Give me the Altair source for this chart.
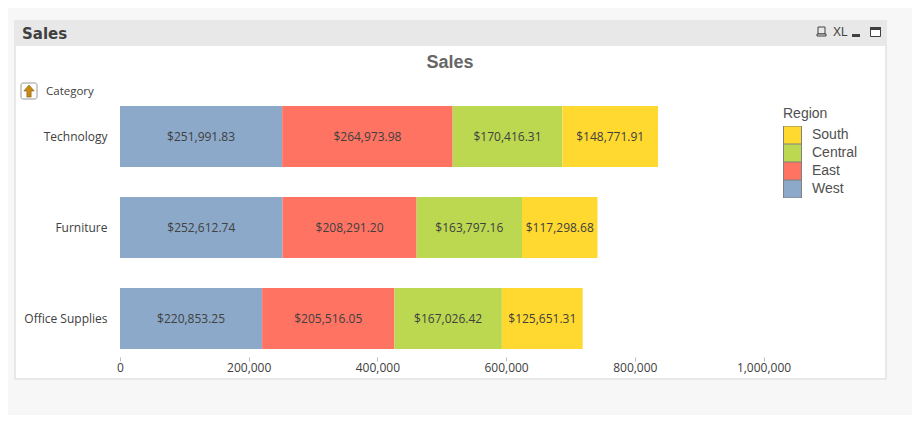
import altair as alt
import pandas as pd

categories = ["Technology", "Furniture", "Office Supplies"]
regions = ["West", "East", "Central", "South"]
legend_order = ["South", "Central", "East", "West"]
colors = ["#FFD92F", "#BBD850", "#FF7363", "#8CA9C9"]
west = [251991.83, 252612.74, 220853.25]
east = [264973.98, 208291.20, 205516.05]
central = [170416.31, 163797.16, 167026.42]
south = [148771.91, 117298.68, 125651.31]
tick_values = [0, 200000, 400000, 600000, 800000, 1000000]

series = {"West": west, "East": east, "Central": central, "South": south}
rows = []
for i, c in enumerate(categories):
    for o, r in enumerate(regions):
        rows.append({"Category": c, "Region": r, "Value": series[r][i], "o": o})
df = pd.DataFrame(rows)

OX, OY = 120, 91
one = pd.DataFrame({"a": [0]})


def box(x0, y0, x1, y1, fill, stroke=None, radius=0):
    kw = {"fill": fill}
    if stroke:
        kw["stroke"] = stroke
        kw["strokeWidth"] = 1
    if radius:
        kw["cornerRadius"] = radius
    return alt.Chart(one).mark_rect(**kw).encode(
        x=alt.value(x0 - OX), x2=alt.value(x1 - OX),
        y=alt.value(y0 - OY), y2=alt.value(y1 - OY))


def label(s, x, y, size, color, font, weight="normal", align="left"):
    return alt.Chart(one).mark_text(
        text=s, fontSize=size, color=color, font=font, fontWeight=weight,
        align=align, baseline="middle"
    ).encode(x=alt.value(x - OX), y=alt.value(y - OY))


chrome = [
    box(14, 20, 887, 380, "#E8E8E8"),
    box(16, 46, 885, 378, "#FFFFFF"),
    label("Sales", 22, 34, 15, "#3F3F3F", "DejaVu Sans", "bold"),
    label("Sales", 450, 63, 18, "#666666", "Liberation Sans", "bold", "center"),
    label("Category", 46, 92, 11.5, "#404040", "Open Sans"),
    # drill-up icon
    box(21, 83, 37, 99, "#FFFFFF", "#999999", 2),
    alt.Chart(one).mark_point(
        shape="M0,-1 L0.85,0 L0.35,0 L0.35,1 L-0.35,1 L-0.35,0 L-0.85,0 Z",
        filled=True, fill="#C98A10", stroke="#6B4A08", strokeWidth=0.5, opacity=1, size=150
    ).encode(x=alt.value(29 - OX), y=alt.value(91 - OY)),
    # caption icons
    box(818, 27, 825, 34, "#E8E8E8", "#404040"),
    box(817, 34, 826, 36, "#E8E8E8", "#404040"),
    label("XL", 833, 32, 12, "#404040", "Liberation Sans"),
    box(852, 34, 860, 37, "#404040"),
    box(870.5, 27.5, 880.5, 36.5, "#FFFFFF", "#404040"),
    box(870, 27, 881, 30, "#404040"),
]

x_scale = alt.Scale(domain=[0, 1181041], nice=False, zero=False)
y_scale = alt.Scale(domain=categories, paddingInner=0.33, paddingOuter=0.165)

base = alt.Chart(df).transform_stack(
    stack="Value", sort=[alt.SortField("o", order="ascending")],
    groupby=["Category"], as_=["v0", "v1"]
).transform_calculate(mid="(datum.v0 + datum.v1) / 2", txt="'$' + format(datum.Value, ',.2f')")

bars = base.mark_bar(opacity=1).encode(
    x=alt.X("v0:Q", scale=x_scale, title=None,
            axis=alt.Axis(values=tick_values, format=",.0f", grid=False, domain=False, zindex=1,
                          offset=-7, tickColor="#BBBBBB", tickSize=4, labelPadding=1,
                          labelFont="Open Sans", labelFontSize=12, labelColor="#404040",
                          labelFlush=False, labelOverlap=False)),
    x2="v1:Q",
    y=alt.Y("Category:N", scale=y_scale, sort=categories, title=None,
            axis=alt.Axis(grid=False, domain=False, ticks=False, labelPadding=13, zindex=1,
                          labelFont="Open Sans", labelFontSize=12, labelColor="#404040")),
    color=alt.Color("Region:N", scale=alt.Scale(domain=legend_order, range=colors),
                    legend=alt.Legend(
                        orient="none", legendX=663, legendY=16, padding=0,
                        title="Region", titleFont="Liberation Sans", titleFontSize=14,
                        titleFontWeight="normal", titleColor="#505050", titlePadding=5,
                        labelFont="Liberation Sans", labelFontSize=14, labelColor="#505050",
                        symbolType="square", symbolSize=324, symbolStrokeColor="#808080",
                        symbolStrokeWidth=1, symbolOpacity=1, rowPadding=0, labelOffset=10,
                        clipHeight=18)),
)

texts = base.mark_text(font="Open Sans", fontSize=12, color="#404040", baseline="middle").encode(
    x=alt.X("mid:Q", scale=x_scale),
    y=alt.Y("Category:N", scale=y_scale, sort=categories),
    text="txt:N",
)

chart = alt.layer(*chrome, bars, texts).properties(
    width=760, height=273,
    background="#F7F7F7",
    padding={"left": 112, "top": 83, "right": 32, "bottom": 51},
    autosize=alt.AutoSizeParams(type="none"),
).configure_view(stroke=None)

chart.save("out.html", embed_options={"renderer": "svg", "actions": False})
